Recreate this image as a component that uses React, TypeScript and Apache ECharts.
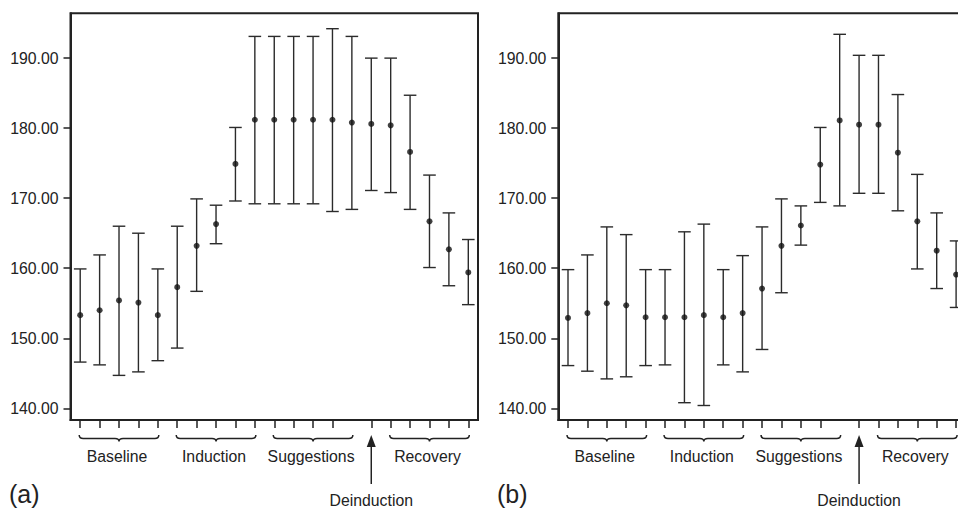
import React, { useEffect, useRef } from "react";
import * as echarts from "echarts";

// x positions of the 21 measurements (same in both panels)
const positions = [0, 1, 2, 3, 4, 5, 6, 7, 8, 9, 10, 11, 12, 13, 14, 15, 16, 17, 18, 19, 20];
// positions carrying a tick mark under the axis
const tickPositions = [0, 1, 2, 3, 4, 5, 6, 7, 8, 9, 10, 11, 12, 13, 15, 16, 17, 18, 19, 20];
const yTicks = [140, 150, 160, 170, 180, 190];

// Panel (a)
const meanA = [153.3, 154.0, 155.4, 155.1, 153.3, 157.3, 163.2, 166.3, 174.9, 181.2, 181.2, 181.2, 181.2, 181.2, 180.8, 180.6, 180.4, 176.6, 166.7, 162.7, 159.4];
const lowA = [146.6, 146.2, 144.7, 145.2, 146.8, 148.6, 156.7, 163.5, 169.6, 169.2, 169.2, 169.2, 169.2, 168.1, 168.4, 171.1, 170.8, 168.4, 160.1, 157.5, 154.8];
const highA = [159.9, 161.9, 166.0, 165.0, 159.9, 166.0, 169.9, 169.0, 180.1, 193.1, 193.1, 193.1, 193.1, 194.2, 193.1, 190.0, 190.0, 184.7, 173.3, 167.9, 164.1];

// Panel (b)
const meanB = [152.9, 153.6, 155.0, 154.7, 153.0, 153.0, 153.0, 153.3, 153.0, 153.6, 157.1, 163.2, 166.1, 174.8, 181.1, 180.5, 180.5, 176.5, 166.7, 162.5, 159.1];
const lowB = [146.1, 145.3, 144.2, 144.5, 146.1, 146.2, 140.8, 140.4, 146.2, 145.2, 148.4, 156.5, 163.3, 169.4, 168.9, 170.7, 170.7, 168.2, 159.9, 157.1, 154.4];
const highB = [159.8, 161.9, 165.9, 164.8, 159.8, 159.8, 165.2, 166.3, 159.8, 161.8, 165.9, 169.9, 168.9, 180.1, 193.4, 190.4, 190.4, 184.8, 173.4, 167.9, 163.9];

// Phase groups
const groupNames = ["Baseline", "Induction", "Suggestions", "Recovery"];
const groupStart = [0, 5, 10, 16];
const groupEnd = [4, 9, 14, 20];
const markerName = "Deinduction";
const markerPos = 15;
const panelLabels = ["(a)", "(b)"];

const Y_MIN = 138.33;
const Y_MAX = 196.4;
const FONT = "'Liberation Sans', Arial, Helvetica, sans-serif";
const INK = "#222";

function buildPanel(idx: number, mean: number[], low: number[], high: number[]) {
  const errData = positions.map((p, i) => [p, low[i], high[i]]);
  const ptData = positions.map((p, i) => [p, mean[i]]);
  const braceData = groupNames.map((n, i) => [groupStart[i], groupEnd[i]]);
  return [
    {
      type: "custom",
      xAxisIndex: idx,
      yAxisIndex: idx,
      clip: false,
      silent: true,
      data: errData,
      encode: { x: 0, y: [1, 2] },
      renderItem: (params: any, api: any) => {
        const x = api.value(0);
        const top = api.coord([x, api.value(2)]);
        const bot = api.coord([x, api.value(1)]);
        const hw = 6.3;
        const st = { stroke: "#2b2b2b", lineWidth: 1.4 };
        return {
          type: "group",
          children: [
            { type: "line", shape: { x1: top[0], y1: top[1], x2: bot[0], y2: bot[1] }, style: st },
            { type: "line", shape: { x1: top[0] - hw, y1: top[1], x2: top[0] + hw, y2: top[1] }, style: st },
            { type: "line", shape: { x1: bot[0] - hw, y1: bot[1], x2: bot[0] + hw, y2: bot[1] }, style: st },
          ],
        };
      },
    },
    {
      type: "scatter",
      xAxisIndex: idx,
      yAxisIndex: idx,
      silent: true,
      symbol: "circle",
      symbolSize: 6,
      itemStyle: { color: "#111" },
      data: ptData,
      z: 5,
    },
    {
      type: "custom",
      xAxisIndex: idx,
      yAxisIndex: idx,
      clip: false,
      silent: true,
      data: braceData,
      renderItem: (params: any, api: any) => {
        const s = api.coord([api.value(0), Y_MIN]);
        const e = api.coord([api.value(1), Y_MIN]);
        const base = s[1];
        const x0 = s[0] - 1;
        const x1 = e[0] + 1;
        const xm = (x0 + x1) / 2;
        const yEnd = base + 15;
        const yLine = base + 18.5;
        const yTip = base + 21.5;
        const r = 4;
        const d =
          `M${x0} ${yEnd} Q${x0} ${yLine} ${x0 + r} ${yLine} L${xm - r} ${yLine} ` +
          `Q${xm} ${yLine} ${xm} ${yTip} Q${xm} ${yLine} ${xm + r} ${yLine} ` +
          `L${x1 - r} ${yLine} Q${x1} ${yLine} ${x1} ${yEnd}`;
        return {
          type: "group",
          children: [
            { type: "path", shape: { pathData: d }, style: { fill: "none", stroke: INK, lineWidth: 1.5 } },
            {
              type: "text",
              x: xm - 2,
              y: base + 36.7,
              style: {
                text: groupNames[params.dataIndex],
                fill: INK,
                fontSize: 15.8,
                fontFamily: FONT,
                align: "center",
                verticalAlign: "middle",
              },
            },
          ],
        };
      },
    },
    {
      type: "custom",
      xAxisIndex: idx,
      yAxisIndex: idx,
      clip: false,
      silent: true,
      data: [[markerPos]],
      renderItem: (params: any, api: any) => {
        const p = api.coord([api.value(0), Y_MIN]);
        const x = p[0];
        const base = p[1];
        return {
          type: "group",
          children: [
            { type: "line", shape: { x1: x, y1: base + 25, x2: x, y2: base + 64 }, style: { stroke: INK, lineWidth: 1.5 } },
            {
              type: "polygon",
              shape: { points: [[x, base + 15], [x - 4.5, base + 27], [x + 4.5, base + 27]] },
              style: { fill: INK },
            },
            {
              type: "text",
              x: x,
              y: base + 80.7,
              style: { text: markerName, fill: INK, fontSize: 15.8, fontFamily: FONT, align: "center", verticalAlign: "middle" },
            },
          ],
        };
      },
    },
  ];
}

export default function App() {
  const ref = useRef<HTMLDivElement>(null);
  useEffect(() => {
    if (!ref.current) return;
    const chart = echarts.init(ref.current, null, { renderer: "svg" });
    const grids = [
      { left: 70.5, top: 13.3, width: 407.5, height: 406.7 },
      { left: 558.3, top: 13.3, width: 407.5, height: 406.7 },
    ].map((g) => ({ ...g, show: true, borderColor: INK, borderWidth: 2, backgroundColor: "transparent" }));
    const xAxes = [0, 1].map((i) => ({
      type: "value",
      gridIndex: i,
      min: -0.5,
      max: 20.5,
      splitLine: { show: false },
      axisLine: { show: true, onZero: false, lineStyle: { color: INK, width: 2 } },
      axisTick: { show: true, inside: false, length: 8, customValues: tickPositions, lineStyle: { color: INK, width: 1.5 } },
      axisLabel: { show: false },
    }));
    const yAxes = [0, 1].map((i) => ({
      type: "value",
      gridIndex: i,
      min: Y_MIN,
      max: Y_MAX,
      splitLine: { show: false },
      axisLine: { show: true, onZero: false, lineStyle: { color: INK, width: 2 } },
      axisTick: { show: true, inside: false, length: 7, customValues: yTicks, lineStyle: { color: INK, width: 1.5 } },
      axisLabel: {
        show: true,
        customValues: yTicks,
        margin: 12,
        color: INK,
        fontSize: 15.8,
        fontFamily: FONT,
        formatter: (v: number) => v.toFixed(2),
      },
    }));
    chart.setOption({
      animation: false,
      backgroundColor: "#fff",
      grid: grids,
      xAxis: xAxes,
      yAxis: yAxes,
      graphic: [
        { type: "text", left: 9, top: 481, style: { text: panelLabels[0], fill: INK, fontSize: 25, fontFamily: FONT } },
        { type: "text", left: 497, top: 481, style: { text: panelLabels[1], fill: INK, fontSize: 25, fontFamily: FONT } },
      ],
      series: [...buildPanel(0, meanA, lowA, highA), ...buildPanel(1, meanB, lowB, highB)],
    });
    return () => chart.dispose();
  }, []);
  return (
    <div style={{ position: "absolute", left: 0, top: 0, width: 958, height: 510, overflow: "hidden" }}>
      <div ref={ref} style={{ position: "absolute", left: 0, top: 0, width: 990, height: 510 }} />
    </div>
  );
}
